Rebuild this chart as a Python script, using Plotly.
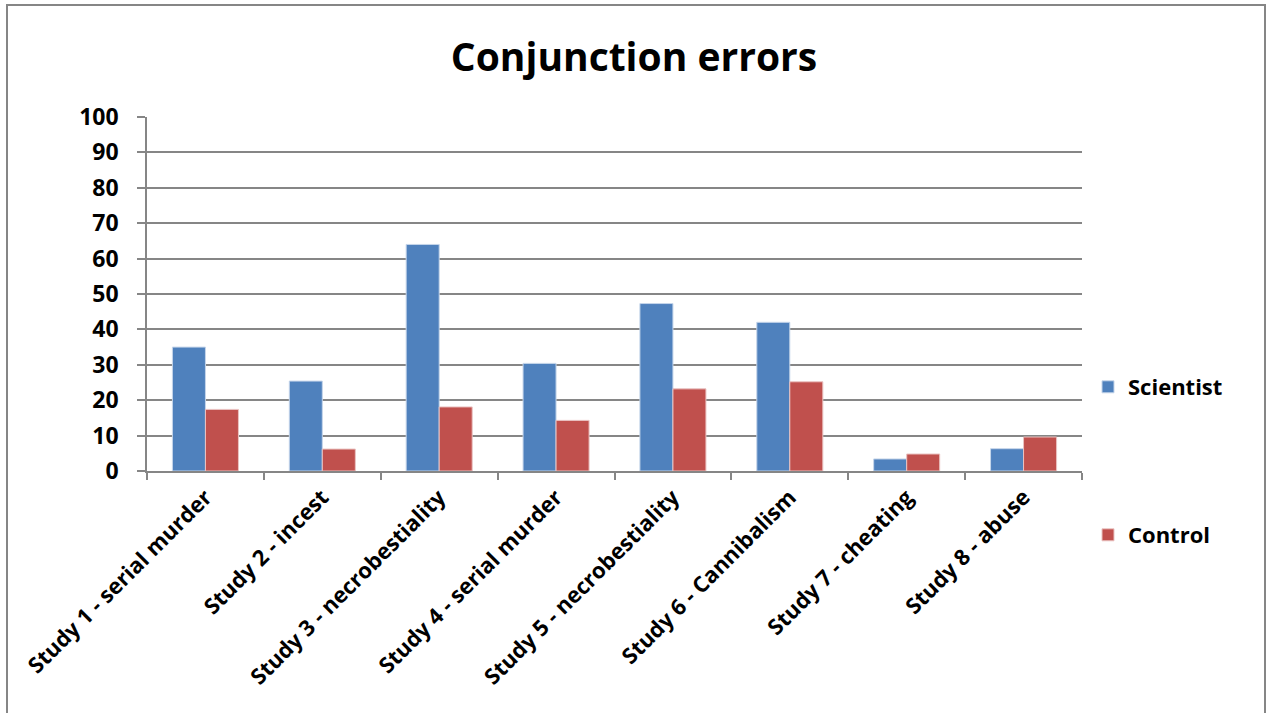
import plotly.graph_objects as go

categories = ["Study 1 - serial murder", "Study 2 - incest", "Study 3 - necrobestiality",
              "Study 4 - serial murder", "Study 5 - necrobestiality", "Study 6 - Cannibalism",
              "Study 7 - cheating", "Study 8 - abuse"]
scientist = [35.0, 25.4, 64.0, 30.4, 47.3, 42.0, 3.4, 6.3]
control = [17.4, 6.2, 18.1, 14.3, 23.2, 25.2, 4.8, 9.6]
y_ticks = list(range(0, 101, 10))

FONT = "Open Sans"
fig = go.Figure()
fig.add_trace(go.Bar(x=categories, y=scientist, name="Scientist", marker_color="#4F81BD",
                     marker_line=dict(color="#C5D5EA", width=1), legend="legend",
                     showlegend=True))
fig.add_trace(go.Bar(x=categories, y=control, name="Control", marker_color="#C0504D",
                     marker_line=dict(color="#EAC3C2", width=1), legend="legend2",
                     showlegend=True))

L, R, T, B = 147, 1082, 117, 471
W, H = 1268, 713

def px(x):
    return (x - L) / (R - L)

def py(y):
    return (B - y) / (B - T)

bold = lambda s: dict(size=s, family=FONT, weight="bold", color="black")

fig.update_layout(
    width=W, height=H,
    margin=dict(l=L, r=W - R, t=T, b=H - B),
    paper_bgcolor="white", plot_bgcolor="white",
    barmode="group", bargap=0.435, bargroupgap=0,
    showlegend=True,
    font=dict(family=FONT, color="black"),
    title=dict(text="Conjunction errors", x=0.5, xanchor="center",
               y=1 - 57 / H, yanchor="middle", font=bold(39)),
    xaxis=dict(type="category", tickson="boundaries", ticks="outside", ticklen=7,
               tickcolor="#868686", tickwidth=1.5, showline=True, linecolor="#868686",
               linewidth=1.5, showgrid=False, tickangle=-45,
               tickfont=bold(22), ticklabelstandoff=3),
    yaxis=dict(range=[0, 100], tickvals=y_ticks, ticks="outside", ticklen=8,
               tickcolor="#868686", tickwidth=1.5, showline=True, linecolor="#868686",
               linewidth=1.5, showgrid=True, gridcolor="#868686", gridwidth=1.5,
               zeroline=False, tickfont=bold(23), ticklabelstandoff=14),
    legend=dict(x=px(1088), y=py(387), xanchor="left", yanchor="middle",
                font=bold(22), bgcolor="rgba(0,0,0,0)", itemwidth=30),
    legend2=dict(x=px(1088), y=py(535), xanchor="left", yanchor="middle",
                 font=bold(22), bgcolor="rgba(0,0,0,0)", itemwidth=30),
)
fig.add_shape(type="rect", xref="paper", yref="paper",
              x0=px(7), x1=px(1265), y0=py(730), y1=py(5),
              line=dict(color="#868686", width=2), fillcolor="rgba(0,0,0,0)", layer="below")
fig.write_html("out.html", post_script="document.body.style.margin='0';",
               config={"displayModeBar": False})
